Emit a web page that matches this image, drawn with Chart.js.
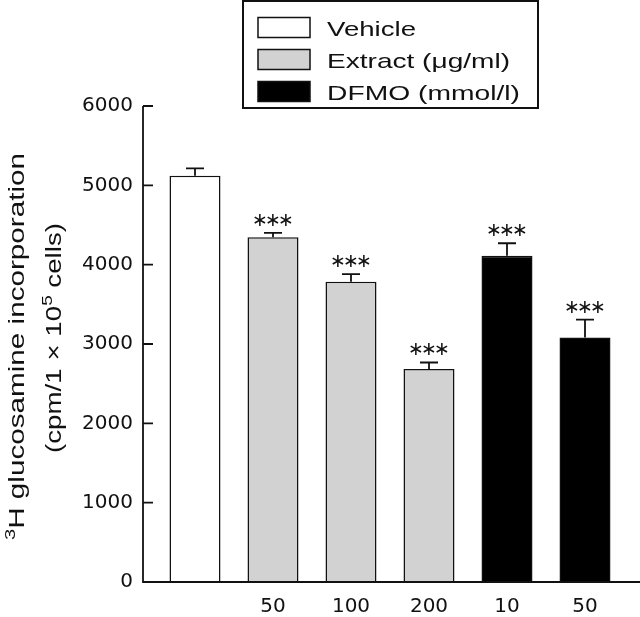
<!DOCTYPE html>
<html>
<head>
<meta charset="utf-8">
<script src="https://cdn.jsdelivr.net/npm/chart.js@4.4.1/dist/chart.umd.min.js"></script>
<style>
  html, body { margin: 0; padding: 0; background: #fff; }
  canvas { display: block; }
</style>
</head>
<body>
<canvas id="chart" width="640" height="617"></canvas>
<script>
// data
const categories = ['', '50', '100', '200', '10', '50'];
const groups = [0, 1, 1, 1, 2, 2];
const values = [5120, 4345, 3784, 2685, 4112, 3083];
const errors = [95, 55, 96, 82, 158, 224];
const stars = ['', '***', '***', '***', '***', '***'];
const legendLabels = ['Vehicle', 'Extract (\u03bcg/ml)', 'DFMO (mmol/l)'];
const yTicks = [0, 1000, 2000, 3000, 4000, 5000, 6000];

const groupFill = ['#ffffff', '#d2d2d2', '#000000'];
const ink = '#111111';
const textFont = '"Liberation Sans", Arial, sans-serif';

// draw a line of text made of runs [text, isSuperscript], stretched to a width
function drawRuns(ctx, runs, x, y, size, width, angle) {
  ctx.save();
  ctx.translate(x, y);
  if (angle) ctx.rotate(angle);
  ctx.textAlign = 'left';
  ctx.textBaseline = 'alphabetic';
  ctx.fillStyle = ink;
  let natural = 0;
  runs.forEach(r => {
    ctx.font = (r[1] ? size * 0.68 : size) + 'px ' + textFont;
    natural += ctx.measureText(r[0]).width;
  });
  ctx.scale(width ? width / natural : 1, 1);
  let cx = 0;
  runs.forEach(r => {
    ctx.font = (r[1] ? size * 0.68 : size) + 'px ' + textFont;
    ctx.fillText(r[0], cx, r[1] ? -size * 0.42 : 0);
    cx += ctx.measureText(r[0]).width;
  });
  ctx.restore();
}

const decorations = {
  id: 'decorations',
  afterDatasetsDraw(chart) {
    const ctx = chart.ctx;
    const xs = chart.scales.x;
    const ys = chart.scales.y;
    const axisX = chart.chartArea.left - 13;
    const top = ys.getPixelForValue(yTicks[yTicks.length - 1]);
    const zero = ys.getPixelForValue(0);

    ctx.save();
    ctx.strokeStyle = ink;
    ctx.lineWidth = 1.8;
    ctx.lineCap = 'butt';

    // error bars (upper only)
    values.forEach((v, i) => {
      const x = xs.getPixelForValue(i);
      const y0 = ys.getPixelForValue(v);
      const y1 = ys.getPixelForValue(v + errors[i]);
      ctx.beginPath();
      ctx.moveTo(x, y0);
      ctx.lineTo(x, y1);
      ctx.moveTo(x - 9, y1);
      ctx.lineTo(x + 9, y1);
      ctx.stroke();

      if (stars[i]) {
        ctx.fillStyle = ink;
        ctx.font = '19px "DejaVu Sans", sans-serif';
        ctx.textAlign = 'center';
        ctx.textBaseline = 'middle';
        for (let k = 0; k < stars[i].length; k++) {
          ctx.fillText('\u2217', x + (k - 1) * 13, y1 - 12);
        }
      }
    });

    // axes: y line with inward ticks, x line to the right edge
    ctx.beginPath();
    ctx.moveTo(axisX, top);
    ctx.lineTo(axisX, zero);
    ctx.lineTo(chart.width, zero);
    yTicks.forEach(t => {
      const y = ys.getPixelForValue(t);
      ctx.moveTo(axisX, y);
      ctx.lineTo(axisX + 10, y);
    });
    ctx.stroke();

    // legend box
    ctx.lineWidth = 2;
    ctx.strokeRect(243, 1, 295, 107);
    legendLabels.forEach((label, i) => {
      const base = 36 + i * 32;
      ctx.fillStyle = groupFill[i];
      ctx.fillRect(258, base - 18.5, 52, 20);
      ctx.lineWidth = 1.5;
      ctx.strokeRect(258, base - 18.5, 52, 20);
    });
    drawRuns(ctx, [[legendLabels[0], false]], 327, 36, 21, 89);
    drawRuns(ctx, [[legendLabels[1], false]], 327, 68, 21, 183);
    drawRuns(ctx, [[legendLabels[2], false]], 327, 100, 21, 193);

    // y axis title, two rotated lines
    drawRuns(ctx, [['3', true], ['H glucosamine incorporation', false]], 24, 540, 22, 387, -Math.PI / 2);
    drawRuns(ctx, [['(cpm/1 \u00d7 10', false], ['5', true], [' cells)', false]], 61, 453, 22, 230, -Math.PI / 2);
    ctx.restore();
  }
};

new Chart(document.getElementById('chart'), {
  type: 'bar',
  data: {
    labels: categories,
    datasets: [{
      data: values,
      backgroundColor: groups.map(g => groupFill[g]),
      borderColor: ink,
      borderWidth: 1.5,
      barPercentage: 0.654,
      categoryPercentage: 1
    }]
  },
  options: {
    responsive: false,
    animation: false,
    layout: { padding: { top: 106, right: 16, left: 0, bottom: 0 } },
    plugins: {
      legend: { display: false },
      tooltip: { enabled: false }
    },
    scales: {
      x: {
        grid: { display: false, drawTicks: false },
        border: { display: false },
        ticks: { color: ink, padding: 13, font: { family: 'DejaVu Sans', size: 20 } },
        afterFit: s => { s.height = 30; }
      },
      y: {
        min: 0,
        max: 6000,
        grid: { display: false, drawTicks: false },
        border: { display: false },
        afterBuildTicks: s => { s.ticks = yTicks.map(v => ({ value: v })); },
        ticks: {
          color: ink,
          padding: 23,
          font: { family: 'DejaVu Sans', size: 20 },
          callback: v => String(v)
        },
        afterFit: s => { s.width = 156; }
      }
    }
  },
  plugins: [decorations]
});
</script>
</body>
</html>
